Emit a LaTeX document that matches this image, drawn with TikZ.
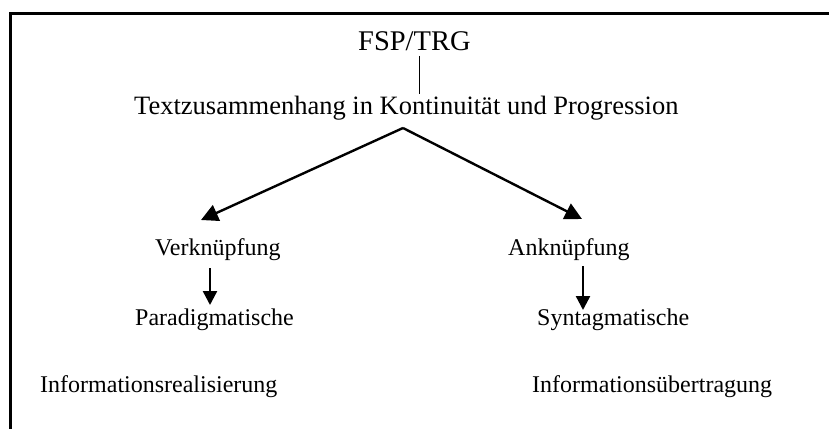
\documentclass[tikz,border=0pt]{standalone}
\usepackage{fontspec}
\setmainfont{Liberation Serif}
\usetikzlibrary{arrows.meta}
\begin{document}
\begin{tikzpicture}[x=1pt,y=-1pt,
  lbl/.style={anchor=base west,inner sep=0pt,font=\fontsize{24}{28}\selectfont},
  bigarrow/.style={line width=2.4pt,-{Triangle[length=17pt,width=17pt]}},
  smallarrow/.style={line width=2.4pt,-{Triangle[length=14pt,width=14pt]}}]
\useasboundingbox (0,0) rectangle (829,428);
\draw[line width=3pt] (10,430) -- (10,14) -- (831,14);
\node[lbl,font=\fontsize{28.5}{32}\selectfont] (fsp) at (358,51) {FSP/TRG};
\node[lbl,font=\fontsize{26.5}{30}\selectfont] (txt) at (134,114) {Textzusammenhang in Kontinuität und Progression};
\node[lbl] (verk) at (155,255) {Verknüpfung};
\node[lbl] (ank) at (508,255) {Anknüpfung};
\node[lbl] (para) at (135,325) {Paradigmatische};
\node[lbl] (syn) at (537,325) {Syntagmatische};
\node[lbl] (inf1) at (40,392) {Informationsrealisierung};
\node[lbl] (inf2) at (532,392) {Informationsübertragung};
\coordinate (ltop) at (419,56);
\coordinate (lbot) at (419,94);
\coordinate (apex) at (403,128);
\coordinate (ltip) at (201,220);
\coordinate (rtip) at (582,219);
\coordinate (v1) at (210,268);
\coordinate (v2) at (210,305);
\coordinate (a1) at (583,266);
\coordinate (a2) at (583,310);
\draw[line width=0.9pt] (ltop) -- (lbot);
\draw[bigarrow] (apex) -- (ltip);
\draw[bigarrow] (apex) -- (rtip);
\draw[smallarrow] (v1) -- (v2);
\draw[smallarrow] (a1) -- (a2);
\end{tikzpicture}
\end{document}
